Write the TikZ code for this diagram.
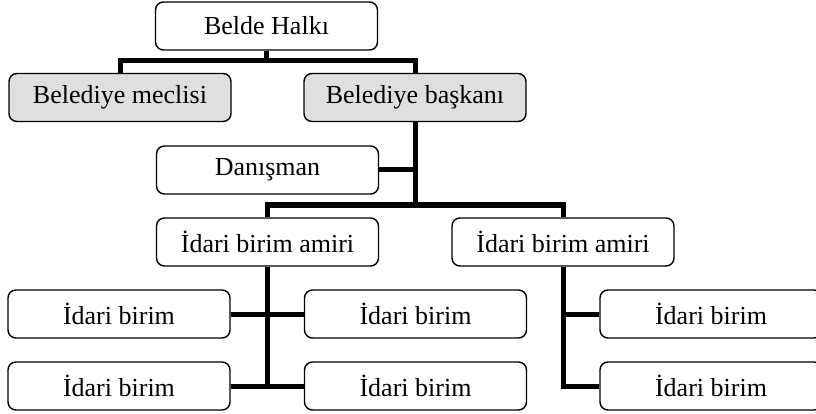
\documentclass[tikz,border=0pt]{standalone}
\usepackage{fontspec}
\setmainfont{Liberation Serif}
\begin{document}
\begin{tikzpicture}[x=1pt,y=-1pt,
    box/.style={draw, fill=white, rounded corners=8pt, line width=1.4pt,
      minimum width=222pt, minimum height=48pt, inner sep=0pt,
      font=\fontsize{26}{30}\selectfont},
    greybox/.style={box, fill=gray!25},
    conn/.style={line width=5pt}]
    \useasboundingbox (0,0) rectangle (816,414);

    % Top levels
    \node[box] (halk) at (266.5,26) {Belde Halkı};
    \node[greybox] (meclis) at (120,97.5) {Belediye meclisi};
    \node[greybox] (baskan) at (415,97.5) {Belediye başkanı};
    \node[box] (danisman) at (267.5,170) {Danışman};

    % Unit heads
    \node[box] (amirA) at (267.5,242) {İdari birim amiri};
    \node[box] (amirB) at (563,242) {İdari birim amiri};

    % Units
    \node[box] (birimA1) at (119,314) {İdari birim};
    \node[box] (birimA2) at (415.5,314) {İdari birim};
    \node[box] (birimA3) at (119,386) {İdari birim};
    \node[box] (birimA4) at (415.5,386) {İdari birim};
    \node[box] (birimB1) at (711,314) {İdari birim};
    \node[box] (birimB2) at (711,386) {İdari birim};

    % Connectors
    \coordinate (top) at (266.5,61);
    \coordinate (mid) at (415,205);
    \coordinate (low) at (267.5,386);
    \draw[conn] (halk.south) -- (top);
    \draw[conn] (meclis.north) |- (top) -| (baskan.north);
    \draw[conn] (baskan.south) -- (mid);
    \draw[conn] (danisman.east) -- (danisman.east -| mid);
    \draw[conn] (amirA.north) |- (mid) -| (amirB.north);
    \draw[conn] (amirA.south) -- (low);
    \draw[conn] (birimA1.east) -- (birimA2.west);
    \draw[conn] (birimA3.east) -- (birimA4.west);
    \draw[conn] (amirB.south) |- (birimB2.west);
    \draw[conn] (birimB1.west) -- (birimB1.west -| amirB.south);
\end{tikzpicture}
\end{document}
